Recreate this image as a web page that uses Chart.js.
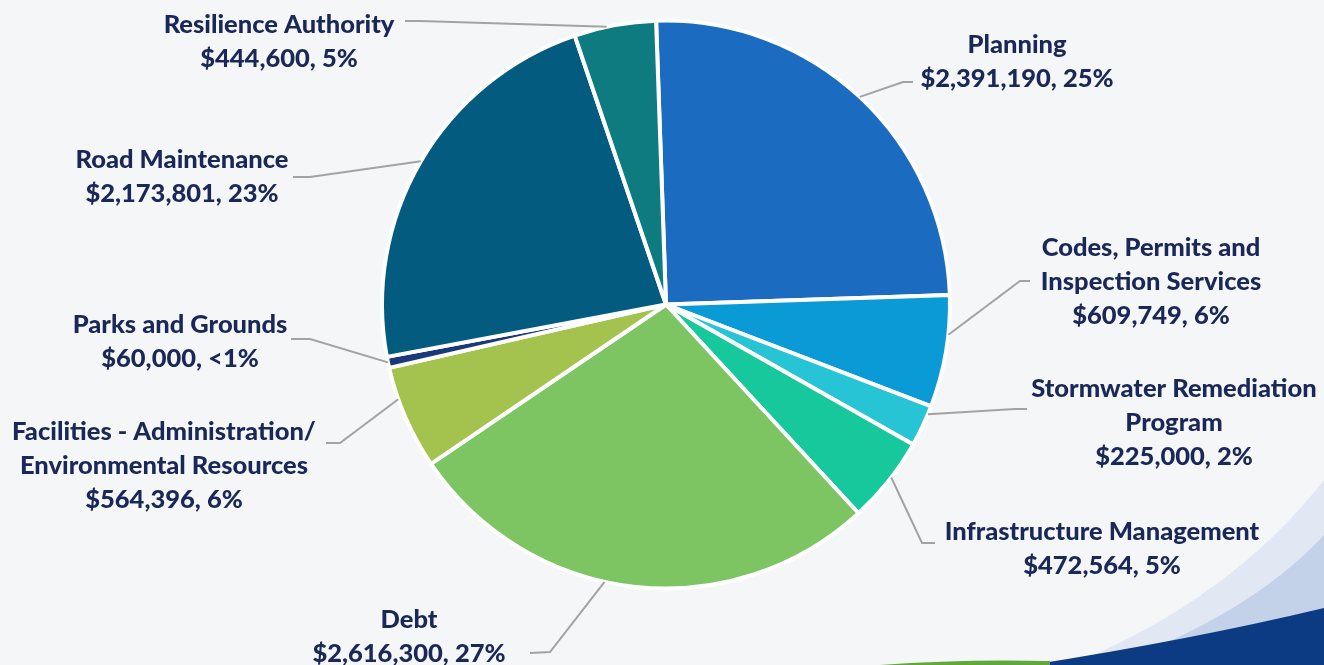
<!DOCTYPE html>
<html>
<head>
<meta charset="utf-8">
<script src="https://cdn.jsdelivr.net/npm/chart.js@4.4.1/dist/chart.umd.min.js"></script>
<style>
  html, body { margin: 0; padding: 0; background: #f5f6f8; overflow: hidden; }
  canvas { display: block; }
</style>
</head>
<body>
<canvas id="budgetChart" width="1324" height="665"></canvas>
<script>
// budget split by department
const categories = [
  ["Planning"],
  ["Codes, Permits and", "Inspection Services"],
  ["Stormwater Remediation", "Program"],
  ["Infrastructure Management"],
  ["Debt"],
  ["Facilities - Administration/", "Environmental Resources"],
  ["Parks and Grounds"],
  ["Road Maintenance"],
  ["Resilience Authority"]
];
const amounts = [2391190, 609749, 225000, 472564, 2616300, 564396, 60000, 2173801, 444600];
const sliceColors = ["#1b6cc0", "#0a9ad6", "#27c4d6", "#16c89b", "#7dc462", "#a3c24e", "#1a3978", "#045b80", "#0e7b80"];

const total = amounts.reduce((a, b) => a + b, 0);

function valueText(v) {
  const pct = v / total * 100;
  const pctText = pct < 1 ? "<1%" : Math.round(pct) + "%";
  return "$" + v.toLocaleString("en-US") + ", " + pctText;
}

// where each callout sits: text centre, first baseline, leader elbow/end, spot on the slice edge
const callouts = [
  { cx: 1017, y: 53,  elbow: [903, 82],  end: [913, 82],  at: 0.5 },
  { cx: 1151, y: 256, elbow: [1020, 281], end: [1030, 281], at: 0.35 },
  { cx: 1174, y: 397, elbow: [1015, 409], end: [1027, 409], at: 0.2 },
  { cx: 1102, y: 540, elbow: [922, 543], end: [935, 543], at: 0.45 },
  { cx: 409,  y: 628, elbow: [550, 652], end: [530, 653], at: 0.56 },
  { cx: 164,  y: 440, elbow: [340, 443], end: [326, 443], at: 0.69 },
  { cx: 180,  y: 333, elbow: [310, 339], end: [291, 339], at: 0.5 },
  { cx: 182,  y: 168, elbow: [310, 177], end: [293, 177], at: 0.5 },
  { cx: 279,  y: 33,  elbow: [420, 21],  end: [405, 21],  at: 0.4 }
];

const backdrop = {
  id: "backdrop",
  beforeDraw(chart) {
    const c = chart.ctx;
    c.save();
    c.fillStyle = "#f5f6f8";
    c.fillRect(0, 0, chart.width, chart.height);

    // corner swoosh
    c.fillStyle = "#e2e8f3";
    c.beginPath();
    c.moveTo(1070, 665);
    c.quadraticCurveTo(1230, 600, 1324, 480);
    c.lineTo(1324, 665);
    c.closePath();
    c.fill();

    c.fillStyle = "#c3d1e9";
    c.beginPath();
    c.moveTo(1110, 665);
    c.quadraticCurveTo(1250, 615, 1324, 535);
    c.lineTo(1324, 665);
    c.closePath();
    c.fill();

    c.fillStyle = "#0c3b84";
    c.beginPath();
    c.moveTo(1030, 665);
    c.quadraticCurveTo(1190, 640, 1324, 608);
    c.lineTo(1324, 665);
    c.closePath();
    c.fill();

    c.fillStyle = "#5ea93a";
    c.beginPath();
    c.moveTo(880, 665);
    c.quadraticCurveTo(960, 659, 1050, 661);
    c.lineTo(1050, 665);
    c.closePath();
    c.fill();
    c.restore();
  }
};

const calloutLabels = {
  id: "calloutLabels",
  afterDatasetsDraw(chart) {
    const c = chart.ctx;
    const arcs = chart.getDatasetMeta(0).data;
    c.save();
    arcs.forEach((arc, i) => {
      const p = callouts[i];
      const a = arc.startAngle + p.at * (arc.endAngle - arc.startAngle);
      const sx = arc.x + Math.cos(a) * arc.outerRadius;
      const sy = arc.y + Math.sin(a) * arc.outerRadius;

      c.strokeStyle = "#a3a3a3";
      c.lineWidth = 2;
      c.beginPath();
      c.moveTo(sx, sy);
      c.lineTo(p.elbow[0], p.elbow[1]);
      c.lineTo(p.end[0], p.end[1]);
      c.stroke();

      const lines = categories[i].concat([valueText(amounts[i])]);
      c.fillStyle = "#1a2858";
      c.font = "900 25.5px Lato";
      c.textAlign = "center";
      c.textBaseline = "alphabetic";
      lines.forEach((t, k) => c.fillText(t, p.cx, p.y + k * 34));
    });
    c.restore();
  }
};

new Chart(document.getElementById("budgetChart"), {
  type: "pie",
  data: {
    labels: categories.map(l => l.join(" ")),
    datasets: [{
      data: amounts,
      backgroundColor: sliceColors,
      borderColor: "#ffffff",
      borderWidth: 4
    }]
  },
  options: {
    responsive: false,
    animation: false,
    rotation: -2,
    layout: { padding: { top: 18, bottom: 74, left: 380, right: 372 } },
    plugins: {
      legend: { display: false },
      tooltip: { enabled: false }
    }
  },
  plugins: [backdrop, calloutLabels]
});
</script>
</body>
</html>
